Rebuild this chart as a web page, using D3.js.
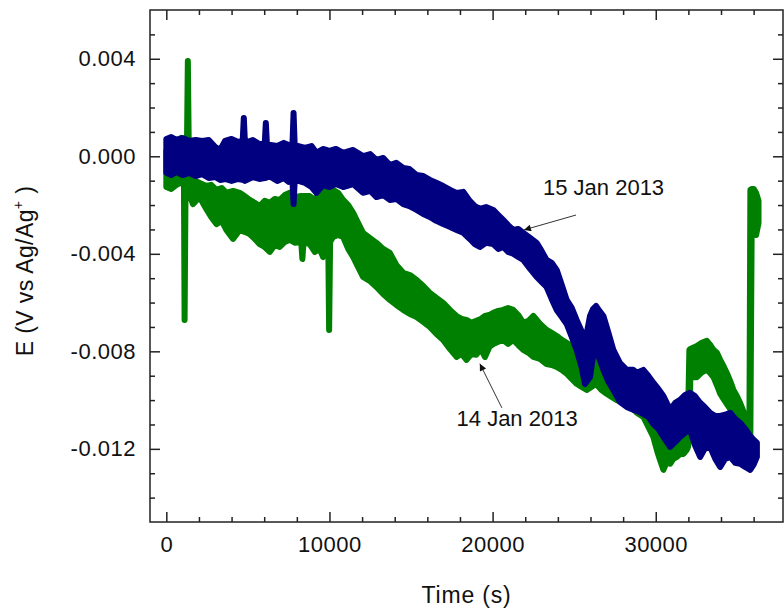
<!DOCTYPE html>
<html lang="en">
<head>
    <meta charset="UTF-8"/>
    <title>E vs Time</title>
    <script src="https://cdnjs.cloudflare.com/ajax/libs/d3/7.8.5/d3.min.js"></script>
    <style>
        body { margin: 0; background: #fff; }
        text { font-family: "Liberation Sans", Arial, sans-serif; fill: #111; }
    </style>
</head>
<body>
<div id="chart"></div>

<script>
    // Tick labels
    const timeTicks = [0, 10000, 20000, 30000];
    const eTicks = [0.004, 0.000, -0.004, -0.008, -0.012];

    // 14 Jan 2013 (green): time, upper and lower edge of the noise band (V)
    const jan14Time = [0, 300, 600, 900, 1080, 1120, 1180, 1260, 1320, 1380, 1630, 2040, 2450, 2750, 3070, 3400, 3680, 4090, 4500, 4800,
        5110, 5420, 5720, 6030, 6340, 6650, 6950, 7260, 7570, 7900, 8270, 8340, 8410, 8790, 9100, 9400, 9610, 9930, 9980, 10040,
        10220, 10530, 10840, 11150, 11450, 11750, 12060, 12470, 12880, 13290, 13700, 14100, 14520, 14930, 15340, 15750, 16150, 16560, 16970, 17380,
        17790, 18100, 18400, 18700, 19000, 19280, 19530, 19800, 20040, 20350, 20650, 20950, 21260, 21570, 21880, 22200, 22500, 22900, 23310, 23620,
        23930, 24240, 24540, 24850, 25150, 25460, 25770, 26050, 26340, 26660, 26990, 27300, 27600, 27900, 28220, 28520, 28840, 29240, 29550, 29850,
        30100, 30260, 30470, 30680, 30880, 31080, 31290, 31500, 31700, 31900, 31980, 32060, 32120, 32520, 32820, 33130, 33340, 33540, 33750, 33950,
        34150, 34350, 34560, 34760, 34970, 35170, 35480, 35740, 35800, 35880, 36000, 36150, 36300];
    const jan14Hi = [0.00022, 0.00055, 0.00063, 0.00075, 0.00014, 0.00014, -0.00007, 0.00010, 0.00391, 0.00010, -0.00097, -0.00109, -0.00122, -0.00117, -0.00138, -0.00130, -0.00150, -0.00142, -0.00150, -0.00163,
        -0.00179, -0.00191, -0.00204, -0.00183, -0.00191, -0.00175, -0.00179, -0.00159, -0.00150, -0.00167, -0.00163, -0.00171, -0.00163, -0.00163, -0.00179, -0.00150, -0.00138, -0.00142, -0.00150, -0.00142,
        -0.00138, -0.00150, -0.00179, -0.00200, -0.00232, -0.00273, -0.00314, -0.00335, -0.00355, -0.00380, -0.00396, -0.00446, -0.00478, -0.00487, -0.00507, -0.00532, -0.00560, -0.00581, -0.00601, -0.00630,
        -0.00655, -0.00667, -0.00671, -0.00683, -0.00675, -0.00667, -0.00655, -0.00651, -0.00642, -0.00634, -0.00630, -0.00622, -0.00630, -0.00651, -0.00683, -0.00675, -0.00655, -0.00687, -0.00712, -0.00724,
        -0.00737, -0.00753, -0.00765, -0.00778, -0.00794, -0.00806, -0.00815, -0.00819, -0.00819, -0.00856, -0.00876, -0.00888, -0.00901, -0.00921, -0.00941, -0.00954, -0.00983, -0.01011, -0.01032, -0.01052,
        -0.01085, -0.01106, -0.01134, -0.01167, -0.01175, -0.01163, -0.01147, -0.01134, -0.01122, -0.01093, -0.01073, -0.00794, -0.00790, -0.00778, -0.00765, -0.00757, -0.00774, -0.00794, -0.00806, -0.00835,
        -0.00860, -0.00888, -0.00921, -0.00958, -0.00983, -0.01011, -0.01065, -0.01122, -0.00138, -0.00134, -0.00134, -0.00150, -0.00183];
    const jan14Lo = [-0.00126, -0.00134, -0.00118, -0.00109, -0.00109, -0.00671, -0.00126, -0.00126, -0.00126, -0.00150, -0.00196, -0.00167, -0.00216, -0.00249, -0.00278, -0.00265, -0.00302, -0.00339, -0.00302, -0.00310,
        -0.00319, -0.00339, -0.00360, -0.00372, -0.00392, -0.00364, -0.00372, -0.00351, -0.00343, -0.00355, -0.00351, -0.00421, -0.00351, -0.00360, -0.00392, -0.00380, -0.00413, -0.00380, -0.00712, -0.00351,
        -0.00331, -0.00323, -0.00331, -0.00380, -0.00413, -0.00454, -0.00495, -0.00511, -0.00536, -0.00565, -0.00589, -0.00610, -0.00630, -0.00647, -0.00659, -0.00679, -0.00700, -0.00729, -0.00753, -0.00790,
        -0.00823, -0.00810, -0.00835, -0.00810, -0.00814, -0.00790, -0.00823, -0.00782, -0.00770, -0.00761, -0.00753, -0.00770, -0.00753, -0.00774, -0.00794, -0.00806, -0.00823, -0.00831, -0.00852, -0.00856,
        -0.00864, -0.00876, -0.00892, -0.00913, -0.00933, -0.00946, -0.00958, -0.00946, -0.00933, -0.00958, -0.00974, -0.00987, -0.01000, -0.01007, -0.01015, -0.01028, -0.01052, -0.01069, -0.01110, -0.01151,
        -0.01212, -0.01245, -0.01286, -0.01253, -0.01261, -0.01241, -0.01233, -0.01221, -0.01221, -0.01204, -0.01192, -0.01151, -0.00906, -0.00906, -0.00886, -0.00876, -0.00889, -0.00906, -0.00939, -0.00974,
        -0.00995, -0.01015, -0.01036, -0.01057, -0.01077, -0.01098, -0.01122, -0.01139, -0.01143, -0.00298, -0.00314, -0.00323, -0.00273];

    // 15 Jan 2013 (blue)
    const jan15Time = [0, 300, 600, 1000, 1400, 1800, 2200, 2600, 3000, 3300, 3600, 4000, 4400, 4680, 4750, 4820, 5300, 5700, 6030, 6100,
        6170, 6400, 6800, 7200, 7500, 7730, 7800, 7870, 8100, 8500, 8900, 9200, 9600, 10000, 10400, 10840, 11450, 12060, 12500, 12880,
        13300, 13700, 14100, 14520, 14900, 15340, 15750, 16150, 16550, 16970, 17400, 17790, 18200, 18600, 18910, 19220, 19600, 20040, 20350, 20650,
        20950, 21260, 21570, 21880, 22300, 22700, 23000, 23310, 23620, 23930, 24240, 24540, 24850, 25150, 25450, 25660, 25970, 26150, 26340, 26550,
        26790, 27100, 27400, 27800, 28220, 28620, 28840, 29240, 29550, 29850, 30160, 30470, 30880, 31200, 31490, 31800, 32100, 32400, 32720, 33000,
        33330, 33650, 33950, 34250, 34560, 34870, 35170, 35480, 35790, 36000, 36200];
    const jan15Hi = [0.00071, 0.00079, 0.00067, 0.00075, 0.00063, 0.00067, 0.00063, 0.00067, 0.00038, 0.00026, 0.00063, 0.00071, 0.00059, 0.00063, 0.00157, 0.00055, 0.00067, 0.00050, 0.00050, 0.00137,
        0.00046, 0.00046, 0.00042, 0.00055, 0.00046, 0.00046, 0.00178, 0.00042, 0.00042, 0.00034, 0.00042, 0.00014, 0.00030, 0.00022, 0.00030, 0.00014, 0.00026, 0.00001, 0.00009, -0.00015,
        -0.00007, -0.00036, -0.00027, -0.00048, -0.00052, -0.00077, -0.00081, -0.00097, -0.00109, -0.00122, -0.00138, -0.00150, -0.00146, -0.00183, -0.00204, -0.00216, -0.00208, -0.00220, -0.00241, -0.00261,
        -0.00282, -0.00302, -0.00298, -0.00314, -0.00335, -0.00355, -0.00388, -0.00425, -0.00437, -0.00466, -0.00528, -0.00589, -0.00622, -0.00671, -0.00716, -0.00765, -0.00655, -0.00627, -0.00614, -0.00634,
        -0.00655, -0.00724, -0.00794, -0.00847, -0.00876, -0.00876, -0.00888, -0.00876, -0.00901, -0.00929, -0.00954, -0.00983, -0.01040, -0.01011, -0.00999, -0.00979, -0.00970, -0.00983, -0.01011, -0.01028,
        -0.01052, -0.01065, -0.01065, -0.01060, -0.01052, -0.01077, -0.01093, -0.01118, -0.01147, -0.01163, -0.01175];
    const jan15Lo = [-0.00068, -0.00077, -0.00064, -0.00077, -0.00068, -0.00081, -0.00073, -0.00089, -0.00085, -0.00097, -0.00093, -0.00101, -0.00093, -0.00097, -0.00097, -0.00101, -0.00085, -0.00093, -0.00089, -0.00089,
        -0.00085, -0.00085, -0.00101, -0.00089, -0.00105, -0.00101, -0.00196, -0.00101, -0.00101, -0.00109, -0.00126, -0.00150, -0.00118, -0.00126, -0.00114, -0.00126, -0.00114, -0.00150, -0.00142, -0.00167,
        -0.00159, -0.00179, -0.00175, -0.00196, -0.00204, -0.00220, -0.00237, -0.00249, -0.00265, -0.00278, -0.00290, -0.00302, -0.00314, -0.00339, -0.00360, -0.00372, -0.00355, -0.00360, -0.00380, -0.00372,
        -0.00392, -0.00400, -0.00413, -0.00425, -0.00462, -0.00495, -0.00515, -0.00536, -0.00585, -0.00630, -0.00659, -0.00688, -0.00741, -0.00794, -0.00864, -0.00934, -0.00905, -0.00823, -0.00794, -0.00831,
        -0.00876, -0.00925, -0.00958, -0.01007, -0.01028, -0.01040, -0.01044, -0.01057, -0.01069, -0.01098, -0.01118, -0.01151, -0.01192, -0.01171, -0.01151, -0.01134, -0.01122, -0.01184, -0.01233, -0.01200,
        -0.01192, -0.01241, -0.01274, -0.01241, -0.01233, -0.01257, -0.01261, -0.01274, -0.01286, -0.01265, -0.01233];

    // Annotations: label position and arrow (tail -> head) in data units
    const labels = [
        {text: "15 Jan 2013", t: 23090, e: -0.00159, tail: [25110, -0.00241], head: [21920, -0.00302]},
        {text: "14 Jan 2013", t: 17790, e: -0.01106, tail: [20570, -0.01032], head: [19220, -0.00851]}
    ];

    const width = 784;
    const height = 612;
    const margin = {top: 10, right: 1, bottom: 90, left: 150};

    const svg = d3
        .select("#chart")
        .append("svg")
        .attr("width", width)
        .attr("height", height);

    // Scales
    const xScale = d3
        .scaleLinear()
        .domain([-1000, 37800])
        .range([margin.left, width - margin.right]);

    const yScale = d3
        .scaleLinear()
        .domain([-0.015, 0.006])
        .range([height - margin.bottom, margin.top]);

    const plotW = width - margin.left - margin.right;
    const plotH = height - margin.top - margin.bottom;

    // Series as min/max band of the noisy signal
    function drawSeries(time, hi, lo, color) {
        const rows = time.map((t, i) => ({t: t, hi: hi[i], lo: lo[i]}));
        const area = d3.area()
            .x(d => xScale(d.t))
            .y0(d => yScale(d.lo))
            .y1(d => yScale(d.hi));
        svg.append("path")
            .datum(rows)
            .attr("d", area)
            .attr("fill", color)
            .attr("stroke", color)
            .attr("stroke-width", 6)
            .attr("stroke-linejoin", "round");
    }

    drawSeries(jan14Time, jan14Hi, jan14Lo, "#008000");
    drawSeries(jan15Time, jan15Hi, jan15Lo, "#000080");

    // Axes (ticks point inward)
    const minorX = d3.range(2000, 37000, 2000).filter(v => v % 10000 !== 0);
    const minorY = d3.range(-14, 6, 1).map(v => v / 1000).filter(v => Math.abs(v * 1000) % 4 !== 0);

    function styleAxis(g) {
        g.select(".domain").remove();
        g.selectAll("line").attr("stroke", "#222").attr("stroke-width", 1.5);
        g.selectAll("text")
            .attr("font-size", 22)
            .attr("letter-spacing", 0.5)
            .attr("font-family", "'Liberation Sans', Arial, sans-serif")
            .attr("fill", "#111");
    }

    const bottomY = height - margin.bottom;

    // bottom
    svg.append("g")
        .attr("transform", `translate(0,${bottomY})`)
        .call(d3.axisBottom(xScale).tickValues(timeTicks).tickSize(-10).tickSizeOuter(0).tickPadding(14).tickFormat(d3.format("d")))
        .call(styleAxis);
    svg.append("g")
        .attr("transform", `translate(0,${bottomY})`)
        .call(d3.axisBottom(xScale).tickValues(minorX).tickSize(-5).tickSizeOuter(0).tickFormat(""))
        .call(styleAxis);

    // top
    svg.append("g")
        .attr("transform", `translate(0,${margin.top})`)
        .call(d3.axisTop(xScale).tickValues(timeTicks).tickSize(-10).tickSizeOuter(0).tickFormat(""))
        .call(styleAxis);
    svg.append("g")
        .attr("transform", `translate(0,${margin.top})`)
        .call(d3.axisTop(xScale).tickValues(minorX).tickSize(-5).tickSizeOuter(0).tickFormat(""))
        .call(styleAxis);

    // left
    svg.append("g")
        .attr("transform", `translate(${margin.left},0)`)
        .call(d3.axisLeft(yScale).tickValues(eTicks).tickSize(-10).tickSizeOuter(0).tickPadding(14).tickFormat(d => d.toFixed(3)))
        .call(styleAxis);
    svg.append("g")
        .attr("transform", `translate(${margin.left},0)`)
        .call(d3.axisLeft(yScale).tickValues(minorY).tickSize(-5).tickSizeOuter(0).tickFormat(""))
        .call(styleAxis);

    // right
    svg.append("g")
        .attr("transform", `translate(${width - margin.right},0)`)
        .call(d3.axisRight(yScale).tickValues(eTicks).tickSize(-10).tickSizeOuter(0).tickFormat(""))
        .call(styleAxis);
    svg.append("g")
        .attr("transform", `translate(${width - margin.right},0)`)
        .call(d3.axisRight(yScale).tickValues(minorY).tickSize(-5).tickSizeOuter(0).tickFormat(""))
        .call(styleAxis);

    // Frame
    svg.append("rect")
        .attr("x", margin.left)
        .attr("y", margin.top)
        .attr("width", plotW)
        .attr("height", plotH)
        .attr("fill", "none")
        .attr("stroke", "#222")
        .attr("stroke-width", 1.5);

    // Axis titles
    svg.append("text")
        .attr("x", margin.left + plotW / 2)
        .attr("y", 603)
        .attr("text-anchor", "middle")
        .attr("font-size", 23)
        .attr("letter-spacing", 0.8)
        .text("Time (s)");

    const yTitle = svg.append("text")
        .attr("transform", `translate(33,${margin.top + plotH / 2 + 5}) rotate(-90)`)
        .attr("text-anchor", "middle")
        .attr("font-size", 23)
        .attr("letter-spacing", 0.4);
    yTitle.append("tspan").text("E (V vs Ag/Ag");
    yTitle.append("tspan").attr("font-size", 14).attr("dy", -10).text("+");
    yTitle.append("tspan").attr("dy", 10).text(" )");

    // Arrow marker
    svg.append("defs")
        .append("marker")
        .attr("id", "arrow")
        .attr("viewBox", "0 0 10 10")
        .attr("refX", 10)
        .attr("refY", 5)
        .attr("markerWidth", 13)
        .attr("markerHeight", 7)
        .attr("markerUnits", "userSpaceOnUse")
        .attr("orient", "auto")
        .append("path")
        .attr("d", "M0,0 L10,5 L0,10 Z")
        .attr("fill", "#111");

    // Annotations
    labels.forEach(l => {
        svg.append("text")
            .attr("x", xScale(l.t))
            .attr("y", yScale(l.e))
            .attr("font-size", 22)
            .text(l.text);
        svg.append("line")
            .attr("x1", xScale(l.tail[0]))
            .attr("y1", yScale(l.tail[1]))
            .attr("x2", xScale(l.head[0]))
            .attr("y2", yScale(l.head[1]))
            .attr("stroke", "#333")
            .attr("stroke-width", 1)
            .attr("marker-end", "url(#arrow)");
    });
</script>
</body>
</html>
